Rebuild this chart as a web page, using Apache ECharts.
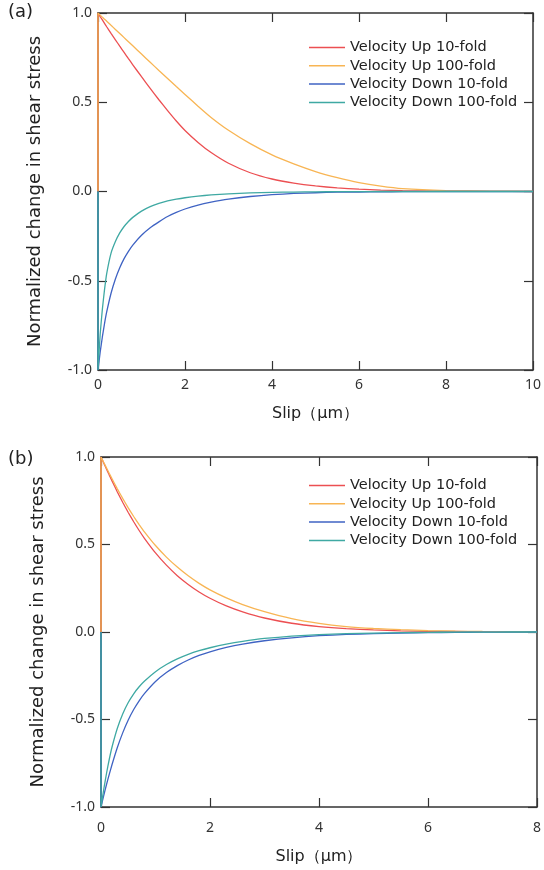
<!DOCTYPE html>
<html>
<head>
<meta charset="utf-8">
<script src="https://cdn.jsdelivr.net/npm/echarts@6/dist/echarts.min.js"></script>
<style>
html, body { margin: 0; padding: 0; background: #fff; }
#chart { width: 544px; height: 870px; }
</style>
</head>
<body>
<div id="chart"></div>
<script>
// panel (a): slip positions and normalized stress change
var slipA = [0, 0, 0.05, 0.1, 0.15, 0.2, 0.3, 0.4, 0.5, 0.6, 0.7, 0.8, 1.0, 1.2, 1.4, 1.6, 1.8, 2.0,
             2.3, 2.6, 3.0, 3.5, 4.0, 4.5, 5.0, 5.5, 6.0, 6.5, 7.0, 8.0, 9.0, 10.0];
var upTenA = [0, 1, 0.98, 0.961, 0.942, 0.923, 0.886, 0.85, 0.814, 0.779, 0.744, 0.71, 0.643, 0.578, 0.514, 0.453, 0.395, 0.342,
              0.275, 0.218, 0.158, 0.105, 0.07, 0.047, 0.031, 0.02, 0.013, 0.008, 0.005, 0.002, 0.001, 0];
var upHundredA = [0, 1, 0.988, 0.977, 0.965, 0.954, 0.931, 0.908, 0.885, 0.862, 0.839, 0.816, 0.77, 0.724, 0.678, 0.633, 0.588, 0.544,
                  0.478, 0.415, 0.343, 0.268, 0.205, 0.155, 0.112, 0.078, 0.05, 0.03, 0.016, 0.005, 0.002, 0.001];
var downTenA = [0, -1, -0.9, -0.815, -0.74, -0.675, -0.57, -0.49, -0.427, -0.376, -0.335, -0.3, -0.245, -0.203, -0.17, -0.14, -0.117, -0.098,
                -0.076, -0.06, -0.043, -0.028, -0.018, -0.011, -0.007, -0.004, -0.003, -0.002, -0.001, 0, 0, 0];
var downHundredA = [0, -1, -0.8, -0.66, -0.55, -0.46, -0.345, -0.28, -0.232, -0.196, -0.168, -0.145, -0.11, -0.085, -0.067, -0.053, -0.043, -0.035,
                    -0.026, -0.019, -0.013, -0.008, -0.005, -0.003, -0.002, -0.001, -0.001, 0, 0, 0, 0, 0];

// panel (b)
var slipB = [0, 0, 0.05, 0.1, 0.15, 0.2, 0.3, 0.4, 0.5, 0.6, 0.7, 0.8, 1.0, 1.2, 1.4, 1.6, 1.8, 2.0,
             2.3, 2.6, 3.0, 3.5, 4.0, 4.5, 5.0, 5.5, 6.0, 6.5, 7.0, 7.5, 8.0];
var upTenB = [0, 1, 0.966, 0.932, 0.898, 0.865, 0.8, 0.74, 0.683, 0.63, 0.58, 0.534, 0.452, 0.382, 0.322, 0.272, 0.229, 0.193,
              0.149, 0.115, 0.08, 0.05, 0.031, 0.019, 0.012, 0.007, 0.004, 0.003, 0.002, 0.001, 0];
var upHundredB = [0, 1, 0.969, 0.938, 0.907, 0.877, 0.818, 0.762, 0.709, 0.66, 0.614, 0.571, 0.494, 0.428, 0.371, 0.321, 0.278, 0.241,
                  0.195, 0.157, 0.116, 0.076, 0.049, 0.031, 0.02, 0.013, 0.008, 0.005, 0.003, 0.002, 0.001];
var downTenB = [0, -1, -0.935, -0.873, -0.815, -0.76, -0.66, -0.575, -0.503, -0.443, -0.393, -0.351, -0.283, -0.232, -0.192, -0.16, -0.134, -0.113,
                -0.088, -0.069, -0.05, -0.033, -0.021, -0.014, -0.009, -0.006, -0.004, -0.002, -0.001, -0.001, 0];
var downHundredB = [0, -1, -0.9, -0.81, -0.73, -0.66, -0.55, -0.467, -0.403, -0.353, -0.313, -0.28, -0.227, -0.186, -0.154, -0.128, -0.107, -0.09,
                    -0.069, -0.053, -0.037, -0.024, -0.015, -0.009, -0.006, -0.004, -0.002, -0.001, -0.001, 0, 0];

var names = ['Velocity Up 10-fold', 'Velocity Up 100-fold', 'Velocity Down 10-fold', 'Velocity Down 100-fold'];
var colors = ['#ec4f52', '#f8b554', '#3f63c3', '#3fa9a3'];
var yTicks = [-1, -0.5, 0, 0.5, 1];

var chartDom = document.getElementById('chart');
var myChart = echarts.init(chartDom);
var font = 'DejaVu Sans';
var tickFont = 'Noto Sans';
var axisColor = '#333';

function pairs(xs, ys) {
    var out = [];
    for (var i = 0; i < xs.length; i++) {
        out.push([xs[i], ys[i]]);
    }
    return out;
}

function xAx(grid, max, pos, gap) {
    var main = pos == 'bottom';
    return {
        type: 'value', gridIndex: grid, position: pos, min: 0, max: max, interval: 2,
        name: main ? 'Slip\uff08\u03bcm\uff09' : '', nameLocation: 'middle', nameGap: gap,
        nameTextStyle: { fontFamily: font, fontSize: 16, color: '#222' },
        axisLine: { show: true, onZero: false, lineStyle: { color: axisColor, width: 1.5 } },
        axisTick: { show: true, inside: true, length: 9, lineStyle: { color: axisColor, width: 1.2 } },
        axisLabel: { show: main, margin: gap - 28, fontFamily: tickFont, fontSize: 14, color: '#333' },
        splitLine: { show: false }
    };
}

function yAx(grid, pos) {
    var main = pos == 'left';
    return {
        type: 'value', gridIndex: grid, position: pos, min: yTicks[0], max: yTicks[yTicks.length - 1], interval: 0.5,
        name: main ? 'Normalized change in shear stress' : '', nameLocation: 'middle', nameGap: 54,
        nameTextStyle: { fontFamily: font, fontSize: 18, color: '#222' },
        axisLine: { show: true, onZero: false, lineStyle: { color: axisColor, width: 1.5 } },
        axisTick: { show: true, inside: true, length: 9, lineStyle: { color: axisColor, width: 1.2 } },
        axisLabel: { show: main, margin: 6, fontFamily: tickFont, fontSize: 14, color: '#333',
            formatter: function (v) { return v.toFixed(1); } },
        splitLine: { show: false }
    };
}

function makeSeries(grid, xs, ysList) {
    var out = [];
    for (var i = 0; i < names.length; i++) {
        out.push({
            name: names[i], type: 'line', xAxisIndex: grid * 2, yAxisIndex: grid * 2,
            data: pairs(xs, ysList[i]), symbol: 'none', animation: false,
            smooth: 0.15,
            lineStyle: { color: colors[i], width: 1.3 }, itemStyle: { color: colors[i] }
        });
    }
    return out;
}

function makeLegend(top) {
    return {
        left: 309, top: top, orient: 'vertical', padding: 0,
        icon: 'rect', itemWidth: 36, itemHeight: 1.5, itemGap: 3.3,
        textStyle: { fontFamily: font, fontSize: 14.5, lineHeight: 14, color: '#222' },
        data: names, selectedMode: false
    };
}

var option = {
    backgroundColor: '#fff',
    title: [
        { text: '(a)', left: 8, top: 3, padding: 0, textStyle: { fontFamily: font, fontSize: 18, fontWeight: 'normal', color: '#222' } },
        { text: '(b)', left: 8, top: 450, padding: 0, textStyle: { fontFamily: font, fontSize: 18, fontWeight: 'normal', color: '#222' } }
    ],
    legend: [makeLegend(40), makeLegend(478)],
    grid: [
        { left: 98, right: 6, top: 13, bottom: 500 },
        { left: 101, right: 6, top: 457, bottom: 63 }
    ],
    xAxis: [xAx(0, 10, 'bottom', 36), xAx(0, 10, 'top', 36), xAx(1, 8, 'bottom', 42), xAx(1, 8, 'top', 42)],
    yAxis: [yAx(0, 'left'), yAx(0, 'right'), yAx(1, 'left'), yAx(1, 'right')],
    series: makeSeries(0, slipA, [upTenA, upHundredA, downTenA, downHundredA])
        .concat(makeSeries(1, slipB, [upTenB, upHundredB, downTenB, downHundredB]))
};

option && myChart.setOption(option);
</script>
</body>
</html>
